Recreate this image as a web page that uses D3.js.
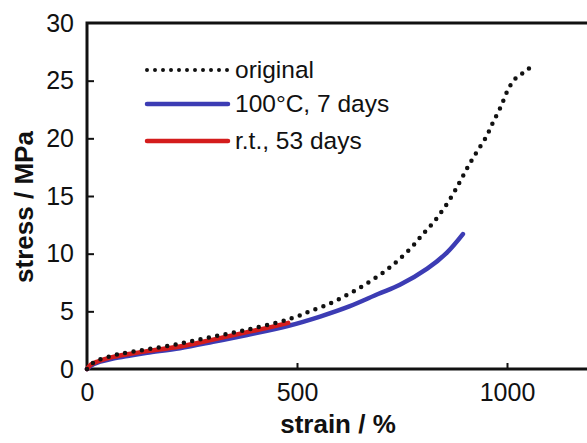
<!DOCTYPE html>
<html>
<head>
<meta charset="utf-8">
<script src="https://cdn.jsdelivr.net/npm/d3@7"></script>
<style>
  html, body { margin: 0; padding: 0; background: #fff; }
  svg { display: block; font-family: "Liberation Sans", Arial, sans-serif; }
</style>
</head>
<body>
<div id="chart"></div>
<script>
(function() {
  'use strict';

  // stress-strain curves
  const origStrain = [0, 10, 25, 50, 71, 100, 143, 221, 300, 381, 460, 500, 531, 567, 602, 638, 674, 710, 740, 774, 800, 829, 862, 886, 905, 926, 950, 967, 986, 1002, 1014, 1026, 1045, 1062];
  const origStress = [0, 0.4, 0.75, 1.05, 1.25, 1.45, 1.7, 2.2, 2.8, 3.4, 4.1, 4.55, 5.0, 5.5, 6.1, 6.8, 7.6, 8.5, 9.4, 10.6, 11.7, 12.9, 14.6, 16.1, 17.4, 18.7, 20.1, 21.4, 22.8, 24.2, 24.9, 25.4, 25.8, 26.5];

  const heatStrain = [0, 10, 25, 62, 100, 143, 221, 300, 381, 480, 555, 626, 693, 745, 810, 857, 895];
  const heatStress = [0, 0.3, 0.55, 0.9, 1.15, 1.4, 1.8, 2.35, 2.95, 3.75, 4.55, 5.45, 6.5, 7.3, 8.7, 10.1, 11.7];

  const rtStrain = [0, 10, 25, 62, 100, 143, 221, 300, 381, 440, 479];
  const rtStress = [0, 0.4, 0.65, 1.05, 1.3, 1.55, 1.95, 2.55, 3.2, 3.65, 4.0];

  const xTicks = [0, 500, 1000];
  const yTicks = [0, 5, 10, 15, 20, 25, 30];

  const legendLabels = ['original', '100\u00B0C, 7 days', 'r.t., 53 days'];
  const seriesColors = ['#111', '#3c3cb4', '#d41c1c'];

  const width = 587;
  const height = 443;
  const left = 87, top = 23, bottom = 369;

  const svg = d3.select('#chart').append('svg')
    .attr('width', width)
    .attr('height', height);

  const x = d3.scaleLinear().domain([0, 1200]).range([left, left + 504]);
  const y = d3.scaleLinear().domain([0, 30]).range([bottom, top]);

  // frame: left, top, bottom
  svg.append('path')
    .attr('d', `M${x(1200)},${y(30)}H${x(0)}V${y(0)}H${x(1200)}`)
    .attr('stroke', '#111')
    .attr('stroke-width', 3)
    .attr('fill', 'none');

  // y ticks (inward) and labels
  const yAxis = d3.axisLeft(y).tickValues(yTicks).tickSize(-7).tickPadding(13).tickFormat(d3.format('d'));
  const yg = svg.append('g').attr('transform', `translate(${left},0)`).call(yAxis);
  yg.select('.domain').remove();
  yg.selectAll('.tick line').attr('stroke', '#111').attr('stroke-width', 2)
    .filter(d => d === 0 || d === 30).remove();
  yg.selectAll('.tick text')
    .attr('font-size', 25)
    .attr('fill', '#111')
    .attr('font-family', '"Liberation Sans", Arial, sans-serif');

  // x ticks (inward) and labels
  const xAxis = d3.axisBottom(x).tickValues(xTicks).tickSize(-6).tickPadding(14).tickFormat(d3.format('d'));
  const xg = svg.append('g').attr('transform', `translate(0,${bottom})`).call(xAxis);
  xg.select('.domain').remove();
  xg.selectAll('.tick line').attr('stroke', '#111').attr('stroke-width', 2)
    .filter(d => d === 0).remove();
  xg.selectAll('.tick text')
    .attr('font-size', 25)
    .attr('fill', '#111')
    .attr('font-family', '"Liberation Sans", Arial, sans-serif');

  // axis titles
  svg.append('text')
    .attr('x', 338)
    .attr('y', 433)
    .attr('text-anchor', 'middle')
    .attr('font-size', 26)
    .attr('font-weight', 'bold')
    .attr('fill', '#111')
    .text('strain / %');

  svg.append('text')
    .attr('transform', 'translate(33,207) rotate(-90)')
    .attr('text-anchor', 'middle')
    .attr('font-size', 26)
    .attr('font-weight', 'bold')
    .attr('fill', '#111')
    .text('stress / MPa');

  // curves
  const line = d3.line()
    .x(d => x(d[0]))
    .y(d => y(d[1]))
    .curve(d3.curveCatmullRom.alpha(0.5));

  const heatData = d3.zip(heatStrain, heatStress);
  const rtData = d3.zip(rtStrain, rtStress);
  const origData = d3.zip(origStrain, origStress);

  svg.append('path')
    .attr('d', line(heatData))
    .attr('fill', 'none')
    .attr('stroke', seriesColors[1])
    .attr('stroke-width', 4.5)
    .attr('stroke-linecap', 'round');

  svg.append('path')
    .attr('d', line(rtData))
    .attr('fill', 'none')
    .attr('stroke', seriesColors[2])
    .attr('stroke-width', 4.5)
    .attr('stroke-linecap', 'round');

  svg.append('path')
    .attr('d', line(origData))
    .attr('fill', 'none')
    .attr('stroke', seriesColors[0])
    .attr('stroke-width', 4.5)
    .attr('stroke-linecap', 'round')
    .attr('stroke-dasharray', '0 8.5');

  // legend
  const legend = svg.append('g');
  const legendY = [70, 104, 141];
  legendLabels.forEach((label, i) => {
    const row = legend.append('g').attr('transform', `translate(0,${legendY[i]})`);
    row.append('line')
      .attr('x1', 147).attr('x2', 228)
      .attr('y1', 0).attr('y2', 0)
      .attr('stroke', seriesColors[i])
      .attr('stroke-width', i === 0 ? 4 : 4.5)
      .attr('stroke-linecap', 'round')
      .attr('stroke-dasharray', i === 0 ? '0 8' : null);
    row.append('text')
      .attr('x', 235)
      .attr('y', 8)
      .attr('font-size', 24.5)
      .attr('fill', '#111')
      .text(label);
  });
})();
</script>
</body>
</html>
